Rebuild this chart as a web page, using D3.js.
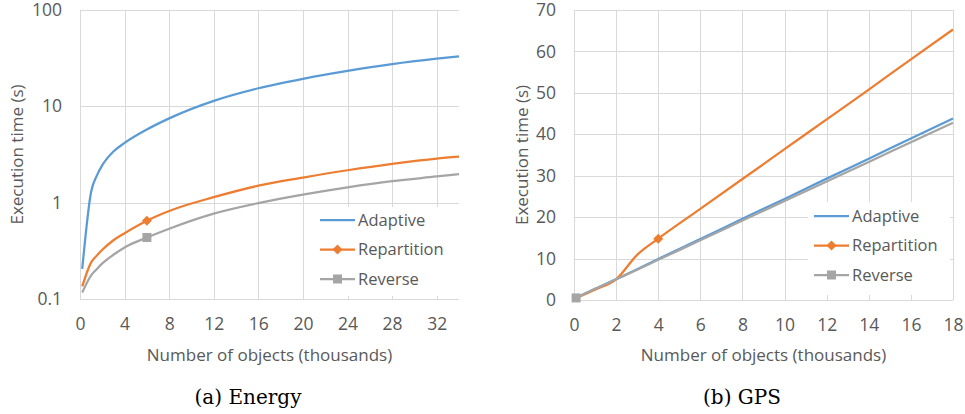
<!DOCTYPE html>
<html>
<head>
<meta charset="utf-8">
<script src="https://cdn.jsdelivr.net/npm/d3@7"></script>
<style>
  body { margin: 0; background: #fff; }
  svg { display: block; }
  .tick text, .title, .legend text { font-family: "Open Sans", sans-serif; fill: #595959; }
  .caption { font-family: "DejaVu Serif", serif; fill: #000; }
</style>
</head>
<body>
<svg id="chart" width="965" height="414"></svg>
<script>
// Energy dataset (log scale)
const energyX = [0.2, 1, 1.5, 2, 3, 4, 6, 8, 12, 16, 20, 24, 28, 32, 34];
const energyAdaptive = [0.205, 1.3, 1.9, 2.45, 3.4, 4.17, 5.75, 7.5, 11.4, 15.4, 19.3, 23.3, 27.4, 31.2, 33];
const energyRepartition = [0.135, 0.24, 0.282, 0.324, 0.407, 0.482, 0.65, 0.82, 1.14, 1.5, 1.82, 2.17, 2.53, 2.87, 3.0];
const energyReverse = [0.117, 0.176, 0.204, 0.234, 0.288, 0.343, 0.435, 0.537, 0.77, 0.99, 1.21, 1.44, 1.67, 1.87, 1.98];
const energyXTicks = [0, 4, 8, 12, 16, 20, 24, 28, 32];
const energyYTicks = [0.1, 1, 10, 100];

// GPS dataset (linear scale)
const gpsX = [0.1, 1, 2, 3, 4, 6, 8, 10, 12, 14, 16, 18];
const gpsAdaptive = [0.5, 2.7, 5, 7.4, 9.9, 14.7, 19.6, 24.4, 29.3, 34.1, 39, 43.8];
const gpsRepartition = [0.5, 2.5, 5, 10.9, 14.8, 22.0, 29.2, 36.4, 43.6, 50.8, 58.1, 65.3];
const gpsReverse = [0.5, 2.7, 5, 7.3, 9.7, 14.4, 19.2, 23.9, 28.6, 33.3, 38.1, 42.8];
const gpsXTicks = [0, 2, 4, 6, 8, 10, 12, 14, 16, 18];
const gpsYTicks = [0, 10, 20, 30, 40, 50, 60, 70];

const seriesNames = ["Adaptive", "Repartition", "Reverse"];
const colors = { Adaptive: "#5b9bd5", Repartition: "#ed7d31", Reverse: "#a5a5a5" };
const markers = { Adaptive: null, Repartition: "diamond", Reverse: "square" };

const svg = d3.select("#chart");
const gridColor = "#d9d9d9";

function drawMarker(g, type, x, y, color) {
    if (type === "square") {
        g.append("rect").attr("x", x - 4.5).attr("y", y - 4.5)
            .attr("width", 9).attr("height", 9).attr("fill", color);
    } else if (type === "diamond") {
        g.append("path")
            .attr("d", `M${x},${y - 5}L${x + 5},${y}L${x},${y + 5}L${x - 5},${y}Z`)
            .attr("fill", color);
    }
}

/**
 * Draws one panel
 */
function drawPanel(cfg) {
    const g = svg.append("g");
    const x = d3.scaleLinear().domain(cfg.xDomain).range([cfg.left, cfg.right]);
    const y = cfg.yScale.range([cfg.bottom, cfg.top]);

    // gridlines
    g.selectAll("line.hgrid").data(cfg.yTicks).enter().append("line")
        .attr("x1", cfg.left).attr("x2", cfg.right)
        .attr("y1", d => Math.round(y(d)) + 0.5).attr("y2", d => Math.round(y(d)) + 0.5)
        .attr("stroke", gridColor);
    g.selectAll("line.vgrid").data(cfg.vGrid).enter().append("line")
        .attr("x1", d => Math.round(x(d)) + 0.5).attr("x2", d => Math.round(x(d)) + 0.5)
        .attr("y1", cfg.top).attr("y2", cfg.bottom)
        .attr("stroke", gridColor);

    // axes
    g.append("g").attr("transform", `translate(0,${cfg.bottom})`)
        .call(d3.axisBottom(x).tickValues(cfg.xTicks).tickSize(0).tickPadding(19).tickFormat(d3.format("d")))
        .call(a => a.select(".domain").remove())
        .selectAll("text").style("font-size", "17.5px");
    g.append("g").attr("transform", `translate(${cfg.left},0)`)
        .call(d3.axisLeft(y).tickValues(cfg.yTicks).tickSize(0).tickPadding(18).tickFormat(cfg.yFormat))
        .call(a => a.select(".domain").remove())
        .selectAll("text").style("font-size", "17.5px");

    // series
    const line = d3.line().curve(d3.curveMonotoneX).x(d => x(d[0])).y(d => y(d[1]));
    cfg.series.forEach(s => {
        const pts = cfg.xs.map((v, i) => [v, s.values[i]]);
        g.append("path").datum(pts).attr("d", line)
            .attr("fill", "none").attr("stroke", colors[s.name]).attr("stroke-width", 2.25);
    });
    cfg.series.forEach(s => {
        s.marks.forEach(i => drawMarker(g, markers[s.name], x(cfg.xs[i]), y(s.values[i]), colors[s.name]));
    });

    // titles
    g.append("text").attr("class", "title").attr("x", (cfg.left + cfg.right) / 2).attr("y", 361)
        .attr("text-anchor", "middle").style("font-size", "17px").text("Number of objects (thousands)");
    g.append("text").attr("class", "title")
        .attr("transform", `translate(${cfg.yTitleX},${(cfg.top + cfg.bottom) / 2}) rotate(-90)`)
        .attr("text-anchor", "middle").attr("dy", "0.35em").style("font-size", "17px").text("Execution time (s)");
    g.append("text").attr("class", "caption").attr("x", cfg.captionX).attr("y", 404)
        .attr("text-anchor", "middle").style("font-size", "20px").text(cfg.caption);

    // legend
    const lg = g.append("g").attr("class", "legend");
    lg.append("rect").attr("x", cfg.legend.x).attr("y", cfg.legend.y)
        .attr("width", cfg.legend.w).attr("height", cfg.legend.h).attr("fill", "#fff");
    seriesNames.forEach((name, i) => {
        const ly = cfg.legend.rowY + i * cfg.legend.step;
        const lx = cfg.legend.x + cfg.legend.pad;
        lg.append("line").attr("x1", lx).attr("x2", lx + 35).attr("y1", ly).attr("y2", ly)
            .attr("stroke", colors[name]).attr("stroke-width", 2.25);
        drawMarker(lg, markers[name], lx + 17.5, ly, colors[name]);
        lg.append("text").attr("x", lx + 38).attr("y", ly).attr("dy", "0.35em")
            .style("font-size", "16.5px").text(name);
    });
}

drawPanel({
    left: 80, right: 459, top: 10, bottom: 299,
    xDomain: [0, 34], xTicks: energyXTicks, vGrid: [0, 4, 8, 12, 16, 20, 24, 28, 32],
    yScale: d3.scaleLog().domain([0.1, 100]), yTicks: energyYTicks, yFormat: d => String(d),
    xs: energyX,
    series: [
        { name: "Adaptive", values: energyAdaptive, marks: [] },
        { name: "Repartition", values: energyRepartition, marks: [6] },
        { name: "Reverse", values: energyReverse, marks: [6] }
    ],
    yTitleX: 17, captionX: 248, caption: "(a) Energy",
    legend: { x: 315, y: 207, w: 145, h: 89, pad: 5, rowY: 220, step: 29.5 }
});

drawPanel({
    left: 574, right: 953, top: 10, bottom: 300,
    xDomain: [0, 18], xTicks: gpsXTicks, vGrid: gpsXTicks,
    yScale: d3.scaleLinear().domain([0, 70]), yTicks: gpsYTicks, yFormat: d3.format("d"),
    xs: gpsX,
    series: [
        { name: "Adaptive", values: gpsAdaptive, marks: [] },
        { name: "Repartition", values: gpsRepartition, marks: [4] },
        { name: "Reverse", values: gpsReverse, marks: [0] }
    ],
    yTitleX: 522, captionX: 742, caption: "(b) GPS",
    legend: { x: 808, y: 202, w: 142, h: 93, pad: 6, rowY: 216, step: 29.5 }
});
</script>
</body>
</html>
